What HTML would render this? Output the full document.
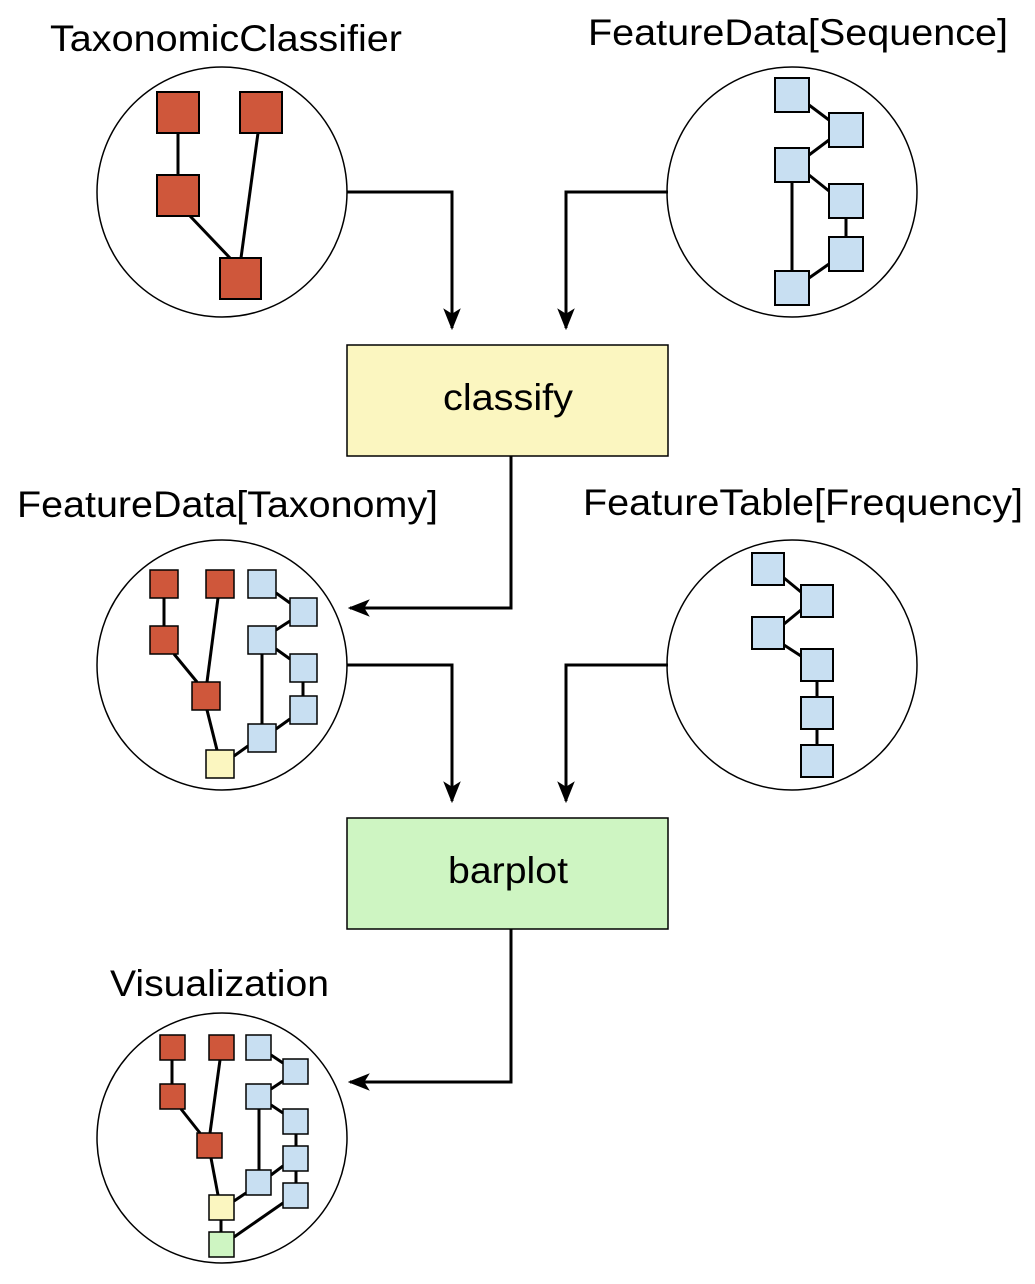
<!DOCTYPE html>
<html><head><style>html,body{margin:0;padding:0;background:#fff}</style></head><body>
<svg width="1035" height="1279" viewBox="0 0 1035 1279" xmlns="http://www.w3.org/2000/svg" font-family="Liberation Sans, sans-serif">
<defs>
<marker id="ah" viewBox="0 0 20 20" markerWidth="22" markerHeight="22" refX="18" refY="10" orient="auto" markerUnits="userSpaceOnUse"><path d="M0,2 L20,10 L0,18 L5,10 z" fill="#000"/></marker></defs>
<g font-size="37" fill="#000">
<text x="50" y="51" textLength="352" lengthAdjust="spacingAndGlyphs">TaxonomicClassifier</text>
<text x="588" y="45" textLength="420" lengthAdjust="spacingAndGlyphs">FeatureData[Sequence]</text>
<text x="17" y="517" textLength="421" lengthAdjust="spacingAndGlyphs">FeatureData[Taxonomy]</text>
<text x="583" y="515" textLength="440" lengthAdjust="spacingAndGlyphs">FeatureTable[Frequency]</text>
<text x="110" y="996" textLength="219" lengthAdjust="spacingAndGlyphs">Visualization</text>
</g>
<g fill="#fff" stroke="#000" stroke-width="1.5">
<circle cx="222" cy="192" r="125"/><circle cx="792" cy="192" r="125"/>
<circle cx="222" cy="665" r="125"/><circle cx="792" cy="665" r="125"/>
<circle cx="222" cy="1138" r="125"/>
</g>
<rect x="347" y="345" width="321" height="111" fill="#fbf6c0" stroke="#000" stroke-width="1.5"/>
<text x="443" y="410" font-size="37" textLength="130" lengthAdjust="spacingAndGlyphs">classify</text>
<rect x="347" y="818" width="321" height="111" fill="#cef5c2" stroke="#000" stroke-width="1.5"/>
<text x="448" y="883" font-size="37" textLength="120" lengthAdjust="spacingAndGlyphs">barplot</text>
<g fill="none" stroke="#000" stroke-width="3">
<path d="M347,192 H452 V328" marker-end="url(#ah)"/>
<path d="M668,192 H566 V328" marker-end="url(#ah)"/>
<path d="M511,456 V608 H350" marker-end="url(#ah)"/>
<path d="M347,665 H452 V801" marker-end="url(#ah)"/>
<path d="M668,665 H566 V801" marker-end="url(#ah)"/>
<path d="M511,929 V1082 H350" marker-end="url(#ah)"/>
</g>
<g stroke="#000" stroke-width="3">
<line x1="178" y1="133" x2="178" y2="175"/><line x1="190" y1="216" x2="230" y2="258"/><line x1="258" y1="133" x2="241" y2="258"/>
</g>
<g fill="#cf573b" stroke="#000" stroke-width="2">
<rect x="157" y="92" width="42" height="41"/><rect x="240" y="92" width="42" height="41"/>
<rect x="157" y="175" width="42" height="41"/><rect x="220" y="258" width="41" height="41"/>
</g>
<g stroke="#000" stroke-width="3">
<line x1="809" y1="105" x2="829" y2="120"/><line x1="809" y1="155" x2="829" y2="140"/>
<line x1="809" y1="175" x2="829" y2="191"/><line x1="846" y1="218" x2="846" y2="237"/>
<line x1="809" y1="278" x2="829" y2="264"/><line x1="792" y1="182" x2="792" y2="271"/>
</g>
<g fill="#c8dff2" stroke="#000" stroke-width="2">
<rect x="775" y="78" width="34" height="34"/><rect x="829" y="113" width="34" height="34"/>
<rect x="775" y="148" width="34" height="34"/><rect x="829" y="184" width="34" height="34"/>
<rect x="829" y="237" width="34" height="34"/><rect x="775" y="271" width="34" height="34"/>
</g>
<g stroke="#000" stroke-width="3">
<line x1="164" y1="598" x2="164" y2="626"/><line x1="174" y1="654" x2="197" y2="682"/>
<line x1="218" y1="598" x2="207" y2="682"/><line x1="207" y1="710" x2="217" y2="750"/>
<line x1="234" y1="756" x2="248" y2="746"/>
<line x1="276" y1="593" x2="290" y2="603"/><line x1="276" y1="630" x2="290" y2="621"/>
<line x1="276" y1="649" x2="290" y2="659"/><line x1="303" y1="682" x2="303" y2="696"/>
<line x1="276" y1="729" x2="290" y2="719"/><line x1="262" y1="654" x2="262" y2="724"/>
</g>
<g stroke="#000" stroke-width="1.5">
<g fill="#cf573b"><rect x="150" y="570" width="28" height="28"/><rect x="206" y="570" width="28" height="28"/><rect x="150" y="626" width="28" height="28"/><rect x="192" y="682" width="28" height="28"/></g>
<rect x="206" y="750" width="28" height="28" fill="#fbf6c0"/>
<g fill="#c8dff2"><rect x="248" y="570" width="28" height="28"/><rect x="290" y="598" width="27" height="28"/><rect x="248" y="626" width="28" height="28"/><rect x="290" y="654" width="27" height="28"/><rect x="290" y="696" width="27" height="28"/><rect x="248" y="724" width="28" height="28"/></g>
</g>
<g stroke="#000" stroke-width="3">
<line x1="784" y1="578" x2="801" y2="592"/><line x1="784" y1="624" x2="801" y2="610"/>
<line x1="784" y1="645" x2="801" y2="656"/><line x1="817" y1="681" x2="817" y2="697"/><line x1="817" y1="729" x2="817" y2="745"/>
</g>
<g fill="#c8dff2" stroke="#000" stroke-width="2">
<rect x="752" y="553" width="32" height="32"/><rect x="801" y="585" width="32" height="32"/>
<rect x="752" y="617" width="32" height="32"/><rect x="801" y="649" width="32" height="32"/>
<rect x="801" y="697" width="32" height="32"/><rect x="801" y="745" width="32" height="32"/>
</g>
<g stroke="#000" stroke-width="3">
<line x1="172" y1="1060" x2="172" y2="1084"/><line x1="181" y1="1109" x2="200" y2="1133"/>
<line x1="220" y1="1060" x2="210" y2="1133"/><line x1="211" y1="1158" x2="218" y2="1195"/>
<line x1="221" y1="1220" x2="221" y2="1232"/><line x1="234" y1="1201" x2="246" y2="1193"/>
<line x1="234" y1="1237" x2="283" y2="1203"/>
<line x1="271" y1="1055" x2="283" y2="1063"/><line x1="271" y1="1089" x2="283" y2="1081"/>
<line x1="271" y1="1105" x2="283" y2="1113"/><line x1="296" y1="1134" x2="296" y2="1146"/>
<line x1="296" y1="1171" x2="296" y2="1183"/><line x1="271" y1="1175" x2="283" y2="1166"/>
<line x1="259" y1="1109" x2="259" y2="1170"/>
</g>
<g stroke="#000" stroke-width="1.5">
<g fill="#cf573b"><rect x="160" y="1035" width="25" height="25"/><rect x="209" y="1035" width="25" height="25"/><rect x="160" y="1084" width="25" height="25"/><rect x="197" y="1133" width="25" height="25"/></g>
<rect x="209" y="1195" width="25" height="25" fill="#fbf6c0"/>
<rect x="209" y="1232" width="25" height="25" fill="#cef5c2"/>
<g fill="#c8dff2"><rect x="246" y="1035" width="25" height="25"/><rect x="283" y="1059" width="25" height="25"/><rect x="246" y="1084" width="25" height="25"/><rect x="283" y="1109" width="25" height="25"/><rect x="283" y="1146" width="25" height="25"/><rect x="246" y="1170" width="25" height="25"/><rect x="283" y="1183" width="25" height="25"/></g>
</g>
</svg>
</body></html>
